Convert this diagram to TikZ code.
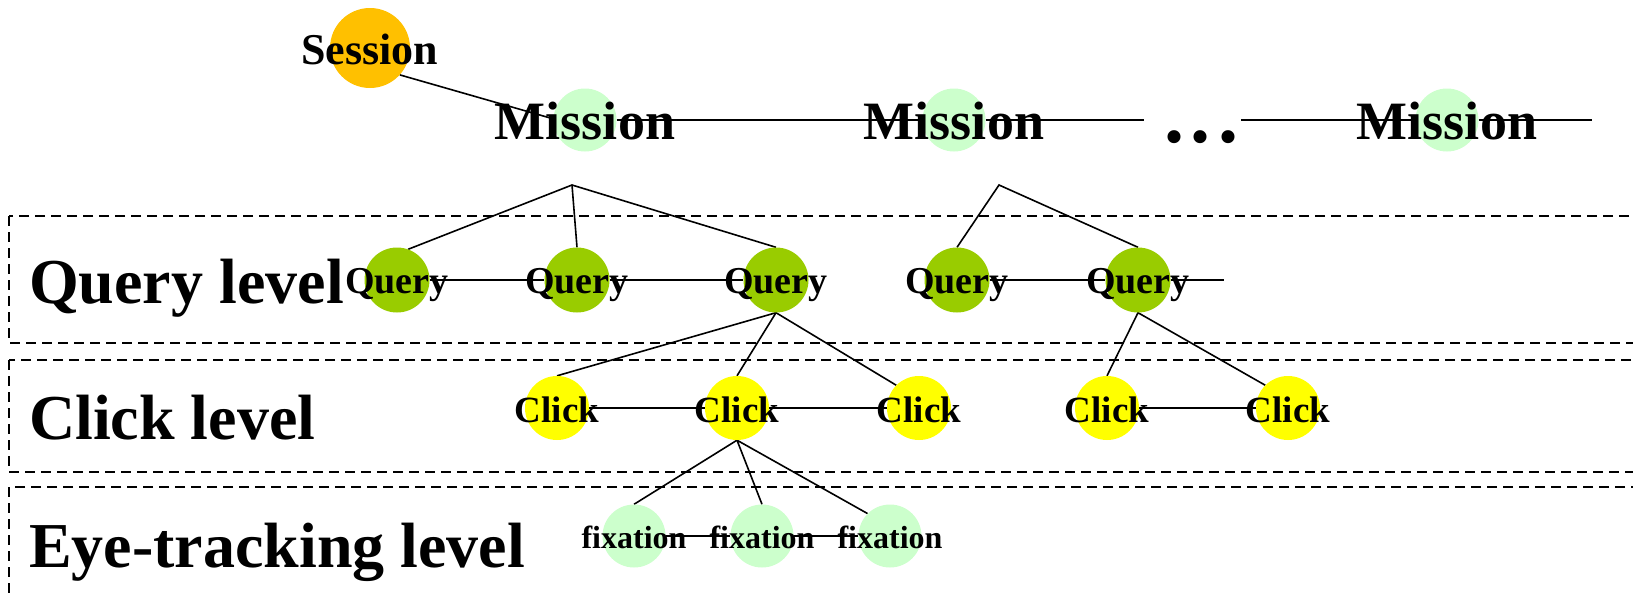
\documentclass[tikz,border=0pt]{standalone}
\usepackage{fontspec}
\setmainfont{Liberation Serif}
\definecolor{sessorange}{RGB}{255,192,0}
\definecolor{lightgreen}{RGB}{204,255,204}
\definecolor{querygreen}{RGB}{153,204,0}
\definecolor{clickyellow}{RGB}{255,255,0}
\pgfdeclarelayer{background}
\pgfsetlayers{background,main}
\begin{document}
\begin{tikzpicture}[x=1pt,y=-1pt,
  conn/.style={line width=1.6pt},
  lvlbox/.style={line width=1.6pt, dash pattern=on 10pt off 6pt},
  txt/.style={font=\bfseries\fontsize{#1pt}{#1pt}\selectfont, inner sep=0pt},
  sessnode/.style={circle, fill=sessorange, minimum size=80pt, inner sep=0pt},
  missnode/.style={circle, fill=lightgreen, minimum size=63pt, inner sep=0pt,
    label={[txt=54, yshift=-1pt]center:Mission}},
  querynode/.style={circle, fill=querygreen, minimum size=65pt, inner sep=0pt,
    label={[txt=38, yshift=-5pt]center:Query}},
  clicknode/.style={circle, fill=clickyellow, minimum size=64pt, inner sep=0pt,
    label={[txt=37, yshift=-2pt]center:Click}},
  fixnode/.style={circle, fill=lightgreen, minimum size=63pt, inner sep=0pt,
    label={[txt=32, yshift=-1pt]center:fixation}},
  lvltext/.style={txt=64, anchor=base west}
]
\useasboundingbox (0,0) rectangle (1633,597);

% nodes
\node[sessnode, label={[txt=44, yshift=-1pt]center:Session}] (s) at (370,48) {};
\node[missnode] (m1) at (585,120) {};
\node[missnode] (m2) at (954,120) {};
\node[missnode] (m3) at (1447,120) {};
\node[txt=80, anchor=base] (dots) at (1201,142) {.\kern7pt.\kern7pt.};

\node[querynode] (q1) at (397,280) {};
\node[querynode] (q2) at (577,280) {};
\node[querynode] (q3) at (776,280) {};
\node[querynode] (q4) at (957,280) {};
\node[querynode] (q5) at (1138,280) {};

\node[clicknode] (c1) at (557,408) {};
\node[clicknode] (c2) at (737,408) {};
\node[clicknode] (c3) at (919,408) {};
\node[clicknode] (c4) at (1107,408) {};
\node[clicknode] (c5) at (1288,408) {};

\node[fixnode] (f1) at (634,536) {};
\node[fixnode] (f2) at (762,536) {};
\node[fixnode] (f3) at (890,536) {};

\node[lvltext] (lq) at (29,303) {Query level};
\node[lvltext] (lc) at (29,439) {Click level};
\node[lvltext] (le) at (29,567) {Eye-tracking level};

\coordinate (a1) at (572,185);
\coordinate (a2) at (999,185);
\coordinate (m2end) at (1144,120);
\coordinate (m3start) at (1241,120);
\coordinate (m3end) at (1592,120);
\coordinate (qend) at (1224,280);

\begin{pgfonlayer}{background}
  % level boxes
  \draw[lvlbox] (9,216) rectangle (1660,343);
  \draw[lvlbox] (9,360) rectangle (1660,472);
  \draw[lvlbox] (9,487) rectangle (1660,620);
  % session / mission chain
  \draw[conn] (s.-42) -- (m1.178);
  \draw[conn] (m1) -- (m2) -- (m2end);
  \draw[conn] (m3start) -- (m3) -- (m3end);
  % mission trees
  \draw[conn] (q1.70) -- (a1) -- (q3.north);
  \draw[conn] (a1) -- (q2.north);
  \draw[conn] (q4.north) -- (a2) -- (q5.north);
  % query rows
  \draw[conn] (q1) -- (q2) -- (q3);
  \draw[conn] (q4) -- (q5) -- (qend);
  % query to clicks
  \draw[conn] (c1.north) -- (q3.south) -- (c3.135);
  \draw[conn] (q3.south) -- (c2.north);
  \draw[conn] (c4.north) -- (q5.south) -- (c5.135);
  % click rows
  \draw[conn] (c1) -- (c2) -- (c3);
  \draw[conn] (c4) -- (c5);
  % click to fixations
  \draw[conn] (f1.north) -- (c2.south) -- (f3.135);
  \draw[conn] (c2.south) -- (f2.north);
  % fixation row
  \draw[conn] (f1) -- (f2) -- (f3);
\end{pgfonlayer}
\end{tikzpicture}
\end{document}
